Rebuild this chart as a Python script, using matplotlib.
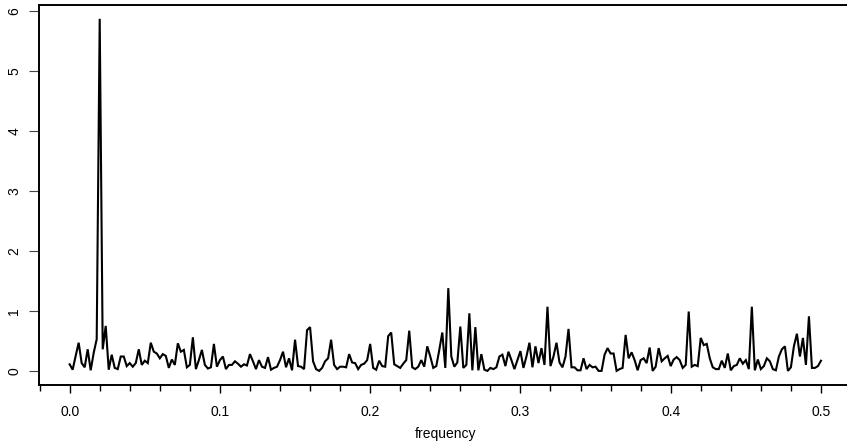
import numpy as np
import matplotlib
matplotlib.use("Agg")
import matplotlib.pyplot as plt
from matplotlib.ticker import MultipleLocator

# Periodogram ordinates, frequencies k/500, k = 0..250
spec = [
    0.11, 0.02, 0.25, 0.47, 0.13, 0.06, 0.36, 0.01, 0.30, 0.53,
    5.87, 0.36, 0.75, 0.02, 0.27, 0.05, 0.03, 0.24, 0.24, 0.08,
    0.13, 0.07, 0.13, 0.36, 0.10, 0.17, 0.13, 0.47, 0.32, 0.29,
    0.21, 0.28, 0.25, 0.05, 0.19, 0.10, 0.46, 0.32, 0.35, 0.06,
    0.10, 0.56, 0.03, 0.18, 0.35, 0.10, 0.04, 0.06, 0.45, 0.07,
    0.18, 0.24, 0.03, 0.10, 0.10, 0.16, 0.12, 0.07, 0.11, 0.09,
    0.28, 0.16, 0.03, 0.18, 0.07, 0.05, 0.23, 0.02, 0.05, 0.07,
    0.18, 0.32, 0.06, 0.21, 0.01, 0.52, 0.08, 0.07, 0.03, 0.68,
    0.73, 0.16, 0.03, 0.00, 0.05, 0.16, 0.21, 0.52, 0.10, 0.03,
    0.07, 0.07, 0.06, 0.28, 0.14, 0.13, 0.03, 0.10, 0.12, 0.18,
    0.45, 0.05, 0.02, 0.17, 0.08, 0.07, 0.58, 0.64, 0.11, 0.08,
    0.05, 0.12, 0.18, 0.67, 0.06, 0.03, 0.07, 0.18, 0.07, 0.41,
    0.24, 0.05, 0.08, 0.35, 0.64, 0.05, 1.38, 0.24, 0.07, 0.14,
    0.74, 0.05, 0.10, 0.96, 0.01, 0.73, 0.01, 0.28, 0.02, 0.00,
    0.05, 0.03, 0.06, 0.24, 0.27, 0.08, 0.32, 0.18, 0.03, 0.18,
    0.33, 0.05, 0.24, 0.47, 0.06, 0.41, 0.13, 0.38, 0.10, 1.07,
    0.08, 0.24, 0.47, 0.14, 0.06, 0.24, 0.70, 0.06, 0.06, 0.01,
    0.01, 0.21, 0.03, 0.10, 0.06, 0.07, 0.00, 0.00, 0.27, 0.38,
    0.29, 0.29, 0.00, 0.03, 0.05, 0.60, 0.21, 0.31, 0.18, 0.01,
    0.18, 0.21, 0.13, 0.39, 0.00, 0.07, 0.38, 0.16, 0.21, 0.25,
    0.08, 0.19, 0.23, 0.18, 0.05, 0.10, 0.99, 0.07, 0.10, 0.08,
    0.55, 0.43, 0.45, 0.21, 0.06, 0.03, 0.03, 0.17, 0.05, 0.29,
    0.01, 0.08, 0.10, 0.21, 0.12, 0.18, 0.03, 1.07, 0.01, 0.19,
    0.03, 0.08, 0.21, 0.16, 0.03, 0.01, 0.24, 0.36, 0.41, 0.00,
    0.06, 0.41, 0.62, 0.24, 0.55, 0.10, 0.91, 0.05, 0.05, 0.08,
    0.17,
]
freq = np.arange(len(spec)) / 500.0

x_ticks = [0.0, 0.1, 0.2, 0.3, 0.4, 0.5]
x_tick_labels = ["0.0", "0.1", "0.2", "0.3", "0.4", "0.5"]
y_ticks = [0, 1, 2, 3, 4, 5, 6]
y_tick_labels = ["0", "1", "2", "3", "4", "5", "6"]

plt.rcParams['font.family'] = ['Liberation Sans', 'DejaVu Sans']

fig = plt.figure(figsize=(8.47, 4.44), dpi=100)
ax = fig.add_axes([39.3 / 847, 59 / 444, (851 - 39.3) / 847, (385 - 4.7) / 444])

ax.plot(freq, spec, color='black', linewidth=1.5, solid_joinstyle='miter')

ax.set_xlim(-0.0202, 0.52)
ax.set_ylim(-0.235, 6.105)

ax.set_xticks(x_ticks)
ax.set_xticklabels(x_tick_labels)
ax.xaxis.set_minor_locator(MultipleLocator(0.02))
ax.set_yticks(y_ticks)
ax.set_yticklabels(y_tick_labels, rotation=90, va='center')

ax.tick_params(axis='x', which='major', direction='out', length=5.5, width=1.0,
               labelsize=10, pad=9, color='black')
ax.tick_params(axis='x', which='minor', direction='out', length=4.5, width=1.0,
               color='black')
ax.tick_params(axis='y', which='major', direction='out', length=7, width=0.8,
               labelsize=10, pad=6, color='#444444')

for s in ax.spines.values():
    s.set_linewidth(1.4)
    s.set_color('black')

ax.set_xlabel("frequency", fontsize=10, labelpad=6)

fig.savefig("out.png", dpi=100)
